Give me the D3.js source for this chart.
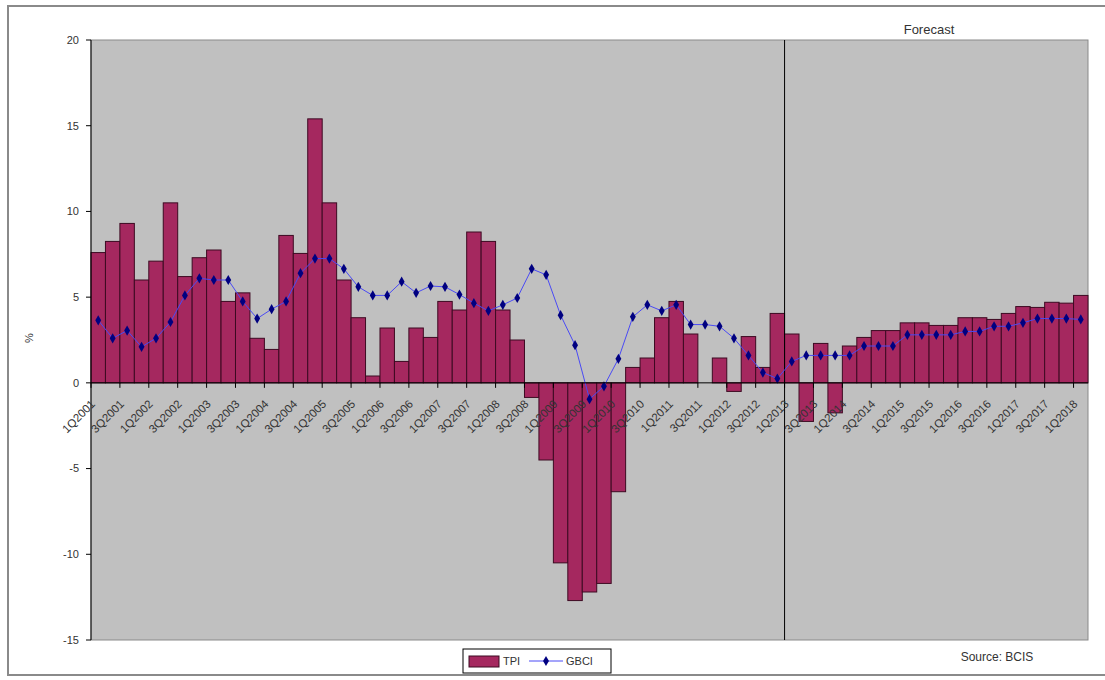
<!DOCTYPE html>
<html>
<head>
<meta charset="utf-8">
<script src="https://cdn.jsdelivr.net/npm/d3@7"></script>
<style>
  body { margin: 0; background: #fff; }
  text { font-family: "Liberation Sans", Arial, sans-serif; fill: #333; }
</style>
</head>
<body>
<div id="chart"></div>
<script>
// Quarters 1Q2001 .. 1Q2018
const quarters = [];
for (let yr = 2001; yr <= 2018; yr++) {
    for (let q = 1; q <= 4; q++) {
        if (yr === 2018 && q > 1) break;
        quarters.push(q + "Q" + yr);
    }
}

// Tender price index, annual % change
const tpi = [
    7.6, 8.25, 9.3, 6.0, 7.1, 10.5, 6.2, 7.3, 7.75, 4.75,
    5.25, 2.6, 1.95, 8.6, 7.55, 15.4, 10.5, 6.0, 3.8, 0.4,
    3.2, 1.25, 3.2, 2.65, 4.75, 4.25, 8.8, 8.25, 4.25, 2.5,
    -0.85, -4.5, -10.5, -12.7, -12.2, -11.7, -6.35, 0.9, 1.45, 3.8,
    4.75, 2.85, 0, 1.45, -0.5, 2.7, 0.9, 4.05, 2.85, -2.25,
    2.3, -1.75, 2.15, 2.65, 3.05, 3.05, 3.5, 3.5, 3.35, 3.35,
    3.8, 3.8, 3.7, 4.05, 4.45, 4.4, 4.7, 4.65, 5.1
];

// General building cost index, annual % change
const gbci = [
    3.65, 2.6, 3.05, 2.1, 2.6, 3.55, 5.1, 6.1, 6.0, 6.0,
    4.75, 3.75, 4.3, 4.75, 6.4, 7.25, 7.25, 6.65, 5.6, 5.1,
    5.1, 5.9, 5.25, 5.65, 5.6, 5.15, 4.65, 4.2, 4.55, 4.95,
    6.65, 6.3, 3.95, 2.2, -0.95, -0.2, 1.4, 3.85, 4.55, 4.2,
    4.55, 3.4, 3.4, 3.3, 2.6, 1.6, 0.6, 0.25, 1.25, 1.6,
    1.6, 1.6, 1.6, 2.15, 2.15, 2.15, 2.8, 2.8, 2.8, 2.8,
    3.0, 3.0, 3.3, 3.3, 3.5, 3.75, 3.75, 3.75, 3.7
];

const yTicks = [20, 15, 10, 5, 0, -5, -10, -15];
const forecastStart = "1Q2013";

const width = 1105, height = 680;
const plot = { left: 91, right: 1088, top: 40, bottom: 640 };

const svg = d3.select("#chart").append("svg")
    .attr("width", width)
    .attr("height", height);

// outer frame
svg.append("rect")
    .attr("x", 8).attr("y", 6)
    .attr("width", 1110).attr("height", 669)
    .attr("fill", "#fff")
    .attr("stroke", "#8a8a8a")
    .attr("stroke-width", 2);

const x = d3.scaleBand().domain(quarters).range([plot.left, plot.right]).padding(0);
const y = d3.scaleLinear().domain([-15, 20]).range([plot.bottom, plot.top]);

// plot area
svg.append("rect")
    .attr("x", plot.left).attr("y", plot.top)
    .attr("width", plot.right - plot.left).attr("height", plot.bottom - plot.top)
    .attr("fill", "#c0c0c0")
    .attr("stroke", "#8a8a8a");

// bars
svg.append("g").selectAll("rect")
    .data(quarters)
    .enter().append("rect")
    .attr("x", d => x(d))
    .attr("width", x.bandwidth())
    .attr("y", (d, i) => y(Math.max(0, tpi[i])))
    .attr("height", (d, i) => Math.abs(y(tpi[i]) - y(0)))
    .attr("fill", "#a5285f")
    .attr("stroke", "#3d0a22")
    .attr("stroke-width", 1);

// forecast divider
const fx = x(forecastStart);
svg.append("line")
    .attr("x1", fx).attr("x2", fx)
    .attr("y1", plot.top).attr("y2", plot.bottom)
    .attr("stroke", "#000").attr("stroke-width", 1);

svg.append("text")
    .attr("x", 929).attr("y", 34)
    .attr("text-anchor", "middle")
    .attr("font-size", 13)
    .text("Forecast");

// GBCI line
const line = d3.line()
    .x((d, i) => x(quarters[i]) + x.bandwidth() / 2)
    .y(d => y(d));

svg.append("path")
    .datum(gbci)
    .attr("d", line)
    .attr("fill", "none")
    .attr("stroke", "#4a4af5")
    .attr("stroke-width", 1);

const diamond = d3.symbol().type(d3.symbolDiamond).size(30);
svg.append("g").selectAll("path")
    .data(gbci)
    .enter().append("path")
    .attr("d", diamond)
    .attr("transform", (d, i) => `translate(${x(quarters[i]) + x.bandwidth() / 2},${y(d)})`)
    .attr("fill", "#000080");

// y axis
const yAxis = svg.append("g");
yAxis.append("line")
    .attr("x1", plot.left).attr("x2", plot.left)
    .attr("y1", plot.top).attr("y2", plot.bottom)
    .attr("stroke", "#000");
yAxis.selectAll(".tick")
    .data(yTicks)
    .enter().append("line")
    .attr("class", "tick")
    .attr("x1", plot.left - 5).attr("x2", plot.left)
    .attr("y1", d => y(d)).attr("y2", d => y(d))
    .attr("stroke", "#000");
yAxis.selectAll("text")
    .data(yTicks)
    .enter().append("text")
    .attr("x", plot.left - 12)
    .attr("y", d => y(d))
    .attr("dy", "0.35em")
    .attr("text-anchor", "end")
    .attr("font-size", 11)
    .text(d => d);

svg.append("text")
    .attr("transform", "translate(33,338) rotate(-90)")
    .attr("text-anchor", "middle")
    .attr("font-size", 11)
    .text("%");

// x axis along zero
const labelled = quarters.filter((d, i) => i % 2 === 0);
svg.append("line")
    .attr("x1", plot.left).attr("x2", plot.right)
    .attr("y1", y(0)).attr("y2", y(0))
    .attr("stroke", "#000");
svg.append("g").selectAll("line")
    .data(labelled)
    .enter().append("line")
    .attr("x1", d => x(d)).attr("x2", d => x(d))
    .attr("y1", y(0)).attr("y2", y(0) + 5)
    .attr("stroke", "#000");
svg.append("g").selectAll("text")
    .data(labelled)
    .enter().append("text")
    .attr("transform", d => `translate(${x(d) + 2},${y(0) + 19}) rotate(-45)`)
    .attr("text-anchor", "end")
    .attr("dy", "0.35em")
    .attr("font-size", 11.5)
    .text(d => d);

// legend
const lg = svg.append("g").attr("transform", "translate(463,649)");
lg.append("rect")
    .attr("width", 148).attr("height", 24)
    .attr("fill", "#fff").attr("stroke", "#000");
lg.append("rect")
    .attr("x", 6).attr("y", 7).attr("width", 30).attr("height", 11)
    .attr("fill", "#a5285f").attr("stroke", "#3d0a22");
lg.append("text")
    .attr("x", 40).attr("y", 12).attr("dy", "0.35em")
    .attr("font-size", 11).text("TPI");
lg.append("line")
    .attr("x1", 66).attr("x2", 100).attr("y1", 12).attr("y2", 12)
    .attr("stroke", "#4a4af5");
lg.append("path")
    .attr("d", diamond)
    .attr("transform", "translate(83,12)")
    .attr("fill", "#000080");
lg.append("text")
    .attr("x", 103).attr("y", 12).attr("dy", "0.35em")
    .attr("font-size", 11).text("GBCI");

svg.append("text")
    .attr("x", 997).attr("y", 661)
    .attr("text-anchor", "middle")
    .attr("font-size", 12)
    .text("Source: BCIS");
</script>
</body>
</html>
